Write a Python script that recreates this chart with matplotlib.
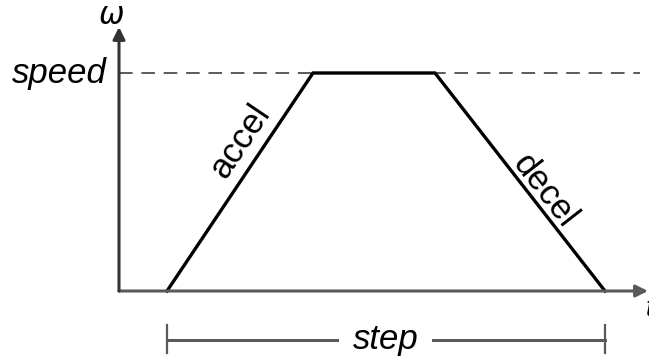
import matplotlib.pyplot as plt
import numpy as np

# trapezoid speed profile (origin = axis corner)
t_pts = [48, 194, 316, 486]
w_pts = [0, 218, 218, 0]
speed = 218
step_y = -49
labels = {"speed": "speed", "accel": "accel", "decel": "decel", "step": "step"}

plt.rcParams['font.family'] = ['Liberation Sans', 'DejaVu Sans']

fig = plt.figure(figsize=(6.49, 3.56), dpi=100)
ax = fig.add_axes([0, 0, 1, 1])
ax.set_xlim(-119, 530)
ax.set_ylim(-65, 291)
ax.axis('off')

axc = '#5a5a5a'
# axes with arrows
ax.annotate('', xy=(529, 0), xytext=(0, 0),
            arrowprops=dict(arrowstyle='-|>', color=axc, lw=2.2, mutation_scale=18,
                            shrinkA=0, shrinkB=0))
ax.annotate('', xy=(0, 264), xytext=(0, 0),
            arrowprops=dict(arrowstyle='-|>', color='#333333', lw=2.2, mutation_scale=18,
                            shrinkA=0, shrinkB=0))

# speed level
ax.plot([0, 521], [speed, speed], ls=(0, (7, 4.5)), color=axc, lw=1.4)

# profile
ax.plot(t_pts, w_pts, color='black', lw=2.4, solid_joinstyle='miter')

# step bracket
ax.plot([t_pts[0], t_pts[0]], [step_y - 13, step_y + 15], color=axc, lw=1.6)
ax.plot([t_pts[-1], t_pts[-1]], [step_y - 13, step_y + 15], color=axc, lw=1.6)
ax.plot([t_pts[0], 218], [step_y, step_y], color=axc, lw=2.2)
ax.plot([314, t_pts[-1]], [step_y, step_y], color=axc, lw=2.2)
ax.text(267, step_y, labels["step"], fontsize=25, style='italic',
        ha='center', va='center')

ax.text(-12, speed, labels["speed"], fontsize=25, style='italic',
        ha='right', va='center')
ax.text(-8, 275, r'$\omega$', fontsize=22, ha='center', va='center',
        family='DejaVu Serif')
ax.text(527, -18, 't', fontsize=20, style='italic', ha='left', va='center')

ax.text(121, 150, labels["accel"], fontsize=25, rotation=56,
        ha='center', va='center', rotation_mode='anchor')
ax.text(426, 100, labels["decel"], fontsize=25, rotation=-52,
        ha='center', va='center', rotation_mode='anchor')

fig.savefig('out.png', dpi=100)
